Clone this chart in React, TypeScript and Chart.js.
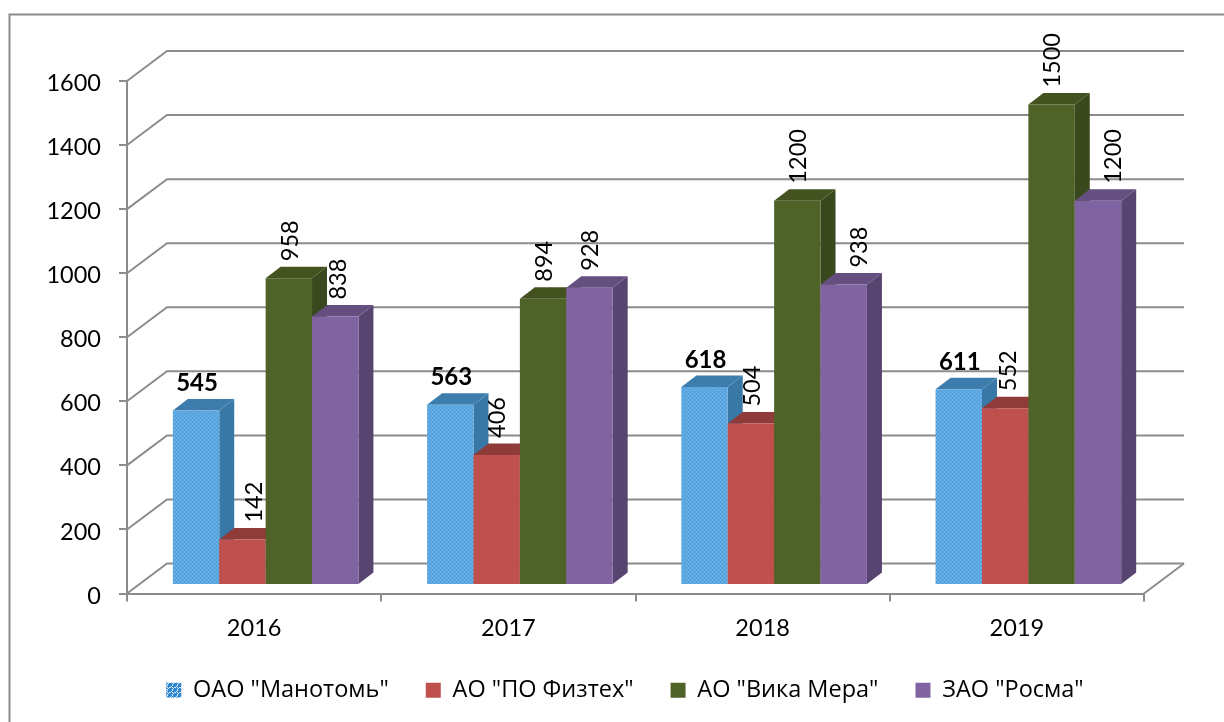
import React, { useEffect, useRef } from "react";
import { Chart, registerables } from "chart.js";

Chart.register(...registerables);

const years = ["2016", "2017", "2018", "2019"];
const seriesNames = ['ОАО "Манотомь"', 'АО "ПО Физтех"', 'АО "Вика Мера"', 'ЗАО "Росма"'];
const manotom = [545, 563, 618, 611];
const fiztekh = [142, 406, 504, 552];
const vikaMera = [958, 894, 1200, 1500];
const rosma = [838, 928, 938, 1200];

const FONT = "Lato, 'Open Sans', sans-serif";
const LEGEND_FONT = "'Open Sans', Lato, sans-serif";
const GRID = "#8c8c8c";
const DEPTH_X = 40;
const DEPTH_Y = 30;
const BAR_DX = 15;
const BAR_DY = 11.5;
const SHIFT_X = 11.5;
const SHIFT_Y = -8.5;

// Manual nudges of rotated value labels, as in the original: [series][year]
const labelNudge = [
  [0, 0, 0, 0],
  [11, 0, 0, 2],
  [1, 0, 0, 0],
  [2, 0, 15, 14],
];

function tile(size: number, bg: string, dot: string, cells: number[][]) {
  const c = document.createElement("canvas");
  c.width = size;
  c.height = size;
  const x = c.getContext("2d")!;
  x.fillStyle = bg;
  x.fillRect(0, 0, size, size);
  x.fillStyle = dot;
  cells.forEach(([a, b]) => x.fillRect(a, b, 1, 1));
  return x.createPattern(c, "repeat")!;
}

export default function App() {
  const ref = useRef<HTMLCanvasElement>(null);
  useEffect(() => {
    const front = tile(4, "#4f9fdc", "#8ac4ee", [[0, 0], [1, 0], [2, 2], [3, 2]]);
    const side = tile(3, "#3e7fae", "#2f6a96", [[0, 0], [1, 1], [2, 2]]);
    const top = tile(3, "#4486b8", "#2f6a96", [[0, 0], [1, 1], [2, 2]]);
    const legendFill = tile(5, "#2f86d0", "#d5ebfa", [[2, 0], [0, 2], [2, 2], [4, 2], [2, 4], [1, 1], [3, 3]]);

    const fronts: any[] = [front, "#C0504D", "#4F6228", "#8064A2"];
    const sides: any[] = [side, "#8f3b39", "#3a481d", "#574470"];
    const tops: any[] = [top, "#8f3b39", "#43521f", "#654f80"];
    const legendFills: any[] = [legendFill, "#C0504D", "#4F6228", "#8064A2"];
    const values = [manotom, fiztekh, vikaMera, rosma];

    const walls = {
      id: "walls",
      afterLayout(chart: any) {
        // The legend is centred under the plot, not under the space left of the right margin.
        chart.legend.left = 107;
        chart.legend.right = 1143;
      },
      beforeDatasetsDraw(chart: any) {
        const { ctx, chartArea: a, scales } = chart;
        const ys = scales.y;
        ctx.save();
        ctx.strokeStyle = GRID;
        ctx.lineWidth = 2;
        // outer chart border (open on the right and bottom)
        ctx.beginPath();
        ctx.moveTo(9.5, 722);
        ctx.lineTo(9.5, 14.5);
        ctx.lineTo(1224, 14.5);
        ctx.stroke();
        ys.ticks.forEach((t: any) => {
          const y = ys.getPixelForValue(t.value);
          ctx.beginPath();
          ctx.moveTo(a.left, y);
          ctx.lineTo(a.left + DEPTH_X, y - DEPTH_Y);
          ctx.lineTo(a.right + DEPTH_X, y - DEPTH_Y);
          ctx.stroke();
        });
        ctx.beginPath();
        ctx.moveTo(a.right, a.bottom);
        ctx.lineTo(a.right + DEPTH_X, a.bottom - DEPTH_Y);
        ctx.stroke();
        ctx.restore();

        // Series are painted first to last, so a bar's front hides its left neighbour's side.
        ctx.save();
        ctx.translate(SHIFT_X, SHIFT_Y);
        values.forEach((_, s) => {
          const meta = chart.getDatasetMeta(s);
          meta.data.forEach((b: any) => {
            const l = b.x - b.width / 2;
            const r = b.x + b.width / 2;
            ctx.fillStyle = sides[s];
            ctx.beginPath();
            ctx.moveTo(r, b.y);
            ctx.lineTo(r + BAR_DX, b.y - BAR_DY);
            ctx.lineTo(r + BAR_DX, b.base - BAR_DY);
            ctx.lineTo(r, b.base);
            ctx.closePath();
            ctx.fill();
            ctx.fillStyle = tops[s];
            ctx.beginPath();
            ctx.moveTo(l, b.y);
            ctx.lineTo(l + BAR_DX, b.y - BAR_DY);
            ctx.lineTo(r + BAR_DX, b.y - BAR_DY);
            ctx.lineTo(r, b.y);
            ctx.closePath();
            ctx.fill();
          });
          meta.controller.draw();
        });
        ctx.restore();
      },
      beforeDatasetDraw() {
        return false;
      },
      afterDatasetsDraw(chart: any) {
        const { ctx } = chart;
        ctx.save();
        ctx.fillStyle = "#000";
        values.forEach((vals, s) => {
          const meta = chart.getDatasetMeta(s);
          vals.forEach((v, i) => {
            const b: any = meta.data[i];
            const cx = b.x + SHIFT_X;
            const topY = b.y + SHIFT_Y;
            if (s === 0) {
              ctx.font = `bold 24px ${FONT}`;
              ctx.textAlign = "center";
              ctx.textBaseline = "middle";
              ctx.fillText(String(v), cx + 1, topY - 27);
            } else {
              ctx.save();
              ctx.translate(cx + 1 + labelNudge[s][i], topY - 17);
              ctx.rotate(-Math.PI / 2);
              ctx.font = `23.5px ${FONT}`;
              ctx.textAlign = "left";
              ctx.textBaseline = "middle";
              ctx.fillText(String(v), 0, 0);
              ctx.restore();
            }
          });
        });
        ctx.restore();
      },
    };

    const chart = new Chart(ref.current!, {
      type: "bar",
      data: {
        labels: years,
        datasets: values.map((data, i) => ({
          label: seriesNames[i],
          data,
          backgroundColor: fronts[i],
          borderWidth: 0,
          categoryPercentage: 0.73,
          barPercentage: 1,
        })),
      },
      options: {
        animation: false,
        responsive: false,
        layout: { padding: { left: 0, right: 80, top: 81, bottom: 10 } },
        scales: {
          x: {
            grid: { display: true, drawOnChartArea: false, color: GRID, lineWidth: 2, tickLength: 8 },
            border: { display: true, color: GRID, width: 2 },
            ticks: { color: "#000", font: { family: FONT, size: 23.5 }, padding: 13, maxRotation: 0 },
            afterFit: (s: any) => {
              s.height = 48;
            },
          },
          y: {
            min: 0,
            max: 1600,
            grid: { display: true, drawOnChartArea: false, color: GRID, lineWidth: 2, tickLength: 8 },
            border: { display: true, color: GRID, width: 2 },
            ticks: {
              stepSize: 200,
              color: "#000",
              font: { family: FONT, size: 23.5 },
              padding: 18,
              labelOffset: 2.5,
              callback: (v: any) => String(v),
            },
            afterFit: (s: any) => {
              s.width = 127;
            },
          },
        },
        plugins: {
          tooltip: { enabled: false },
          legend: {
            position: "bottom",
            labels: {
              color: "#000",
              font: { family: LEGEND_FONT, size: 23.5 },
              boxWidth: 15,
              boxHeight: 15,
              padding: 37,
              generateLabels: () =>
                seriesNames.map((text, i) => ({
                  text,
                  fillStyle: legendFills[i],
                  strokeStyle: "rgba(0,0,0,0)",
                  lineWidth: 0,
                  datasetIndex: i,
                  fontColor: "#000",
                })),
            },
          },
        },
      },
      plugins: [walls],
    } as any);
    return () => chart.destroy();
  }, []);

  return (
    <div style={{ position: "fixed", left: 0, top: 0, width: 1224, height: 722, overflow: "hidden", background: "#fff" }}>
      <canvas ref={ref} width={1224} height={722} style={{ display: "block" }} />
    </div>
  );
}
